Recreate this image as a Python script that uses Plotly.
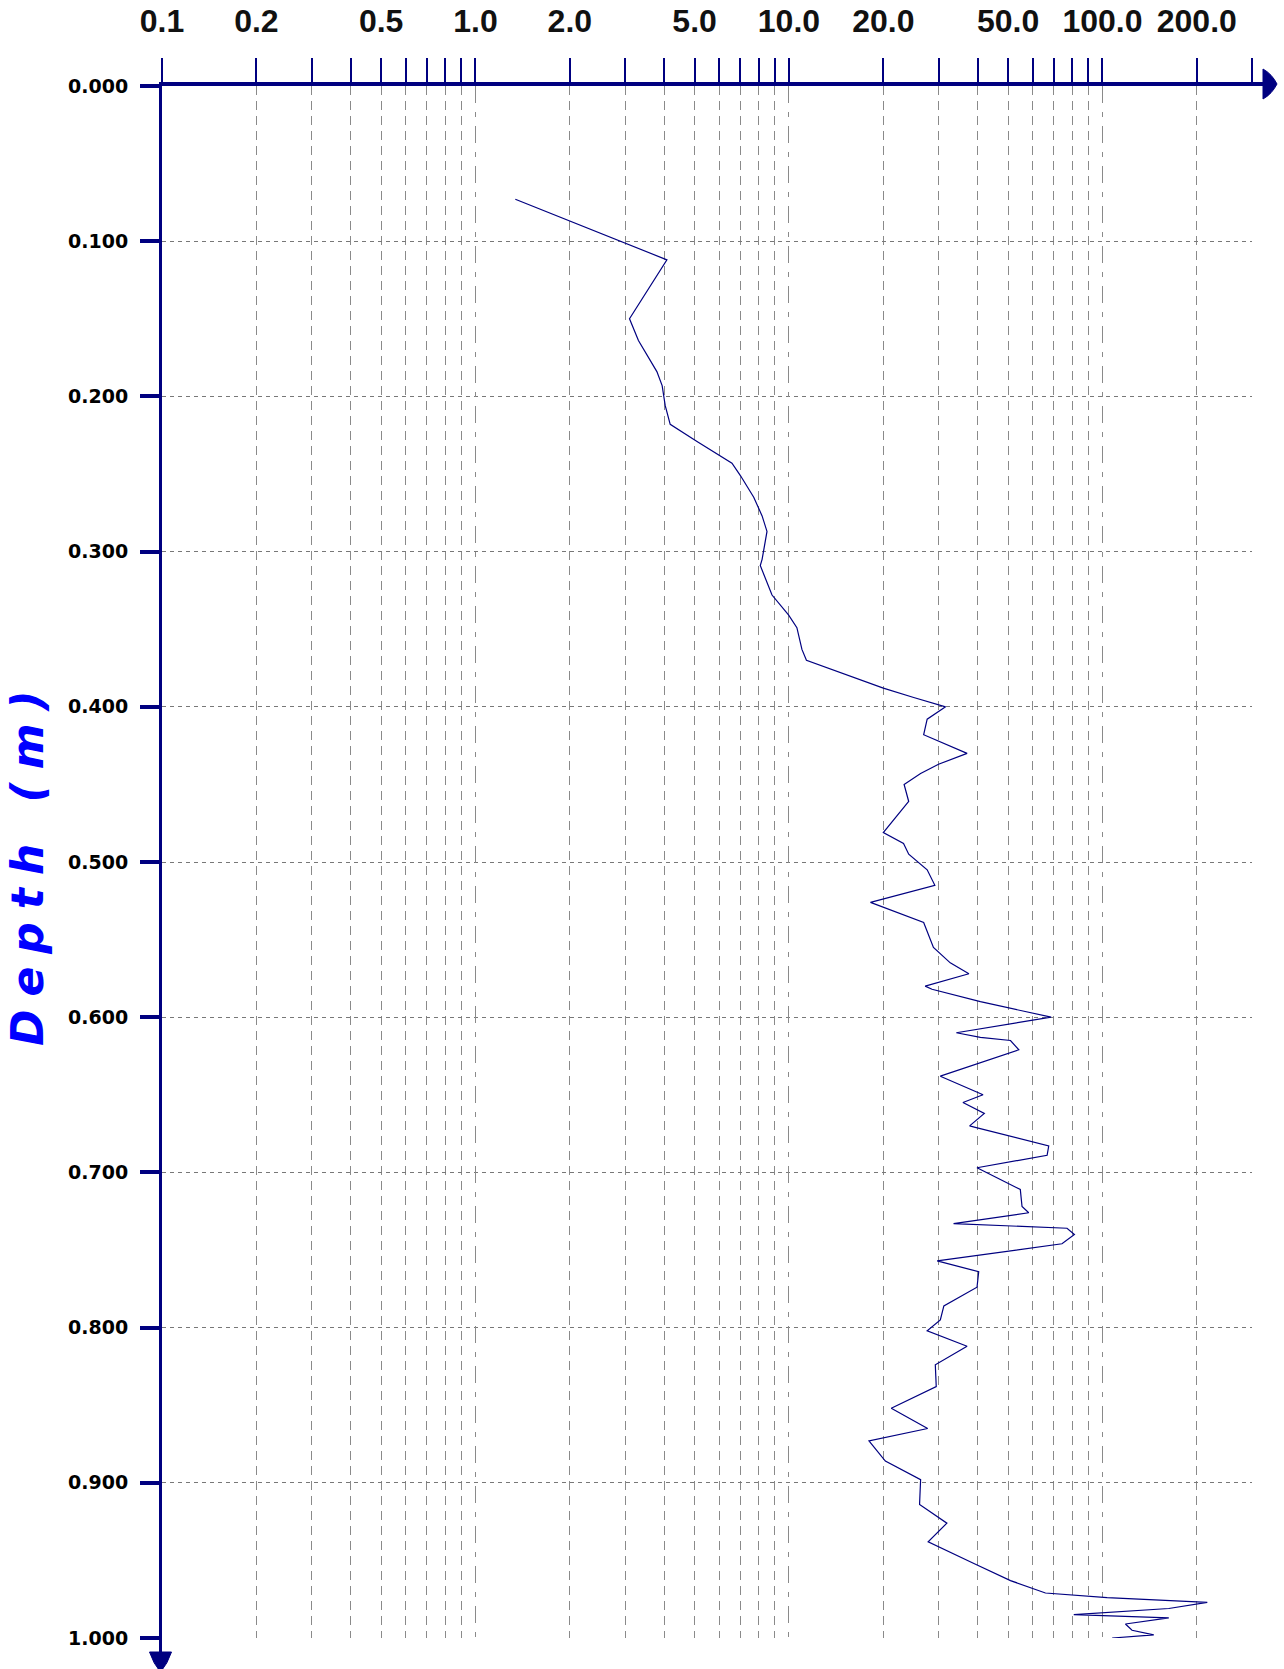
import math
import plotly.graph_objects as go

# Profile readings (log scale) against depth
depth_m = [0.073, 0.112, 0.150, 0.164, 0.184, 0.193, 0.206, 0.218, 0.229, 0.243,
           0.251, 0.265, 0.277, 0.287, 0.305, 0.309, 0.328, 0.341, 0.349, 0.363,
           0.370, 0.388, 0.394, 0.400, 0.408, 0.418, 0.430, 0.437, 0.443, 0.450,
           0.461, 0.481, 0.488, 0.495, 0.505, 0.515, 0.526, 0.539, 0.555, 0.565,
           0.572, 0.580, 0.582, 0.590, 0.600, 0.610, 0.613, 0.615, 0.621, 0.638,
           0.650, 0.655, 0.662, 0.670, 0.671, 0.683, 0.689, 0.697, 0.711, 0.722,
           0.726, 0.733, 0.736, 0.740, 0.746, 0.757, 0.764, 0.774, 0.786, 0.795,
           0.802, 0.812, 0.824, 0.838, 0.852, 0.865, 0.873, 0.886, 0.898, 0.914,
           0.926, 0.938, 0.952, 0.963, 0.971, 0.974, 0.977, 0.981, 0.985, 0.987,
           0.991, 0.995, 0.998, 1.000]
reading = [1.34, 4.08, 3.10, 3.31, 3.79, 3.94, 4.03, 4.18, 5.09, 6.58,
           7.00, 7.72, 8.21, 8.51, 8.21, 8.10, 8.83, 9.98, 10.6, 11.0,
           11.37, 20.0, 25.0, 31.6, 27.6, 26.9, 37.0, 30.0, 26.3, 23.3,
           24.1, 20.0, 23.2, 24.1, 27.6, 29.2, 18.2, 26.9, 28.9, 32.7,
           37.5, 27.2, 28.6, 40.8, 68.6, 34.2, 40.8, 50.9, 54.1, 30.4,
           41.6, 35.9, 42.0, 37.7, 39.3, 67.4, 66.6, 39.8, 54.7, 55.4,
           58.2, 33.5, 77.1, 81.4, 74.3, 29.7, 40.3, 39.8, 31.2, 30.4,
           27.6, 37.0, 29.3, 29.5, 21.2, 27.7, 18.0, 20.3, 26.3, 26.1,
           31.9, 27.8, 38.9, 50.9, 65.8, 103.5, 216.0, 162.8, 81.0, 162.8,
           118.4, 124.3, 145.8, 107.4]

# Axis ticks
depth_ticks = [0.0, 0.1, 0.2, 0.3, 0.4, 0.5, 0.6, 0.7, 0.8, 0.9, 1.0]
depth_labels = [f"{v:.3f}" for v in depth_ticks]

sub_ticks = [0.1, 0.2, 0.3, 0.4, 0.5, 0.6, 0.7, 0.8, 0.9,
             2, 3, 4, 5, 6, 7, 8, 9,
             20, 30, 40, 50, 60, 70, 80, 90,
             200, 300]
sub_labels = ["0.1", "0.2", "", "", "0.5", "", "", "", "",
              "2.0", "", "", "5.0", "", "", "", "",
              "20.0", "", "", "50.0", "", "", "", "",
              "200.0", ""]
decade_ticks = [1, 10, 100]
decade_labels = ["1.0", "10.0", "100.0"]

X_MIN, X_MAX = 0.1, 300
NAVY = "#000080"
GRID = "#8a8a8a"
HGRID = "#787878"

W, H = 1284, 1669
ML, MR, MT, MB = 162, 32, 86, 31
PW, PH = W - ML - MR, H - MT - MB


def px(x):
    return (x - ML) / PW


def py(y):
    return (H - MB - y) / PH


fig = go.Figure()
fig.add_trace(go.Scatter(
    x=reading, y=depth_m, mode="lines",
    line=dict(color=NAVY, width=1.2),
    hoverinfo="x+y", showlegend=False,
))
# empty trace that carries the decade axis
fig.add_trace(go.Scatter(x=[], y=[], xaxis="x2", yaxis="y", showlegend=False))

xr = [math.log10(X_MIN), math.log10(X_MAX)]

common_x = dict(
    type="log", range=xr, side="top", automargin=False,
    ticks="outside", ticklen=24, tickwidth=2, tickcolor=NAVY,
    tickfont=dict(family="Liberation Sans", size=32, color="#111111", weight="bold"),
    ticklabelstandoff=13,
    showgrid=True, gridcolor=GRID, gridwidth=1,
    zeroline=False,
    showline=True, linecolor=NAVY, linewidth=4,
)

fig.update_layout(
    width=W, height=H,
    margin=dict(l=ML, r=MR, t=MT, b=MB, pad=0, autoexpand=False),
    paper_bgcolor="white", plot_bgcolor="white",
    showlegend=False,
    xaxis=dict(
        **common_x,
        tickmode="array", tickvals=sub_ticks, ticktext=sub_labels,
        griddash="9px,6px",
    ),
    xaxis2=dict(
        **common_x,
        overlaying="x", anchor="y",
        tickmode="array", tickvals=decade_ticks, ticktext=decade_labels,
        griddash="17px,9px,5px,9px",
    ),
    yaxis=dict(
        range=[1.0, 0.0], automargin=False,
        tickmode="array", tickvals=depth_ticks, ticktext=depth_labels,
        ticks="outside", ticklen=19, tickwidth=4, tickcolor=NAVY,
        tickfont=dict(family="DejaVu Sans", size=19, color="black", weight="bold"),
        ticklabelstandoff=8,
        showgrid=True, gridcolor=HGRID, gridwidth=1.3, griddash="4px,4px",
        showline=True, linecolor=NAVY, linewidth=3,
        zeroline=False,
    ),
)

# axis extensions with arrow heads
ax_y = 86.0 - 2
fig.add_shape(type="line", xref="paper", yref="paper",
              x0=1, x1=px(1266), y0=py(ax_y), y1=py(ax_y),
              line=dict(color=NAVY, width=4))
fig.add_shape(type="path", xref="paper", yref="paper",
              path=(f"M {px(1263)} {py(ax_y - 15)} "
                    f"Q {px(1272)} {py(ax_y - 10)} {px(1277)} {py(ax_y)} "
                    f"Q {px(1272)} {py(ax_y + 10)} {px(1263)} {py(ax_y + 15)} Z"),
              fillcolor=NAVY, line=dict(color=NAVY, width=1))
ax_x = ML - 1.5
fig.add_shape(type="line", xref="paper", yref="paper",
              x0=px(ax_x), x1=px(ax_x), y0=0, y1=py(1656),
              line=dict(color=NAVY, width=3))
fig.add_shape(type="path", xref="paper", yref="paper",
              path=(f"M {px(ax_x - 11)} {py(1652)} "
                    f"Q {px(ax_x - 7)} {py(1664)} {px(ax_x)} {py(1672)} "
                    f"Q {px(ax_x + 7)} {py(1664)} {px(ax_x + 11)} {py(1652)} Z"),
              fillcolor=NAVY, line=dict(color=NAVY, width=1))

# vertical axis title
fig.add_annotation(
    text='<span style="letter-spacing:13px">Depth (m)</span>',
    xref="paper", yref="paper", x=px(27), y=py(862),
    xanchor="center", yanchor="middle", textangle=-90, showarrow=False,
    font=dict(family="DejaVu Sans", size=44, color="#0000FF",
              weight="bold", style="italic"),
)

fig.write_html("out.html")
